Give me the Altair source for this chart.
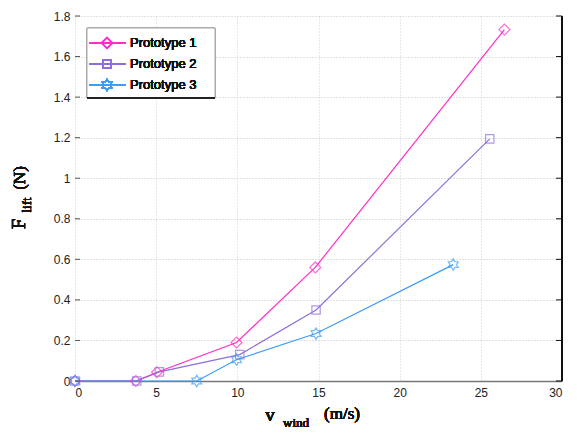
import altair as alt
import pandas as pd

# ---- data ----
series = ["Prototype 1", "Prototype 2", "Prototype 3"]
p1_x = [0, 3.75, 5.05, 9.95, 14.8, 26.45]
p1_y = [0, 0, 0.043, 0.19, 0.56, 1.733]
p2_x = [0, 3.8, 5.2, 10.15, 14.85, 25.55]
p2_y = [0, 0, 0.045, 0.13, 0.35, 1.194]
p3_x = [0, 7.5, 9.95, 14.85, 23.3]
p3_y = [0, 0, 0.105, 0.234, 0.574]
x_ticks = [0, 5, 10, 15, 20, 25, 30]
y_ticks = [0, 0.2, 0.4, 0.6, 0.8, 1.0, 1.2, 1.4, 1.6, 1.8]

colors = ["#ff2ecb", "#8e6fdc", "#3d9df5"]
HEX = ("M0,-1L-0.289,-0.5L-0.866,-0.5L-0.577,0L-0.866,0.5L-0.289,0.5L0,1"
       "L0.289,0.5L0.866,0.5L0.577,0L0.866,-0.5L0.289,-0.5Z")
shapes = ["diamond", "square", HEX]
sizes = [120, 70, 130]

W, H = 487, 365

rows = []
for name, xs, ys in zip(series, [p1_x, p2_x, p3_x], [p1_y, p2_y, p3_y]):
    for i, (a, b) in enumerate(zip(xs, ys)):
        rows.append({"series": name, "idx": i, "v": a, "F": b})
df = pd.DataFrame(rows)

xscale = alt.Scale(domain=[0, 30], nice=False, zero=False)
yscale = alt.Scale(domain=[0, 1.8], nice=False, zero=False)

X = alt.X("v:Q", scale=xscale, title=None,
          axis=alt.Axis(values=x_ticks, format="~g", domain=True, domainColor="#777777",
                        domainWidth=1.5, ticks=False, tickSize=0, labelPadding=6,
                        grid=True, gridColor="#d0d0d0", gridDash=[1, 2]))
Y = alt.Y("F:Q", scale=yscale, title=None,
          axis=alt.Axis(values=y_ticks, format="~g", domain=False, ticks=False, tickSize=0,
                        labelPadding=5, grid=True, gridColor="#c4c4c4", gridDash=[1, 2]))

color = alt.Color("series:N", scale=alt.Scale(domain=series, range=colors), legend=None)

base = alt.Chart(df)
lines = base.mark_line(strokeWidth=1.2).encode(x=X, y=Y, color=color, order="idx:Q", detail="series:N")

pts = []
for name, c, s, sz in zip(series, colors, shapes, sizes):
    pts.append(
        alt.Chart(df[df.series == name]).mark_point(filled=False, strokeWidth=1.2, size=sz, color=c, shape=s)
        .encode(x=alt.X("v:Q", scale=xscale), y=alt.Y("F:Q", scale=yscale))
    )

# frame on the right and inner ticks
tick_df = pd.DataFrame({"t": y_ticks})
right_frame = alt.Chart(tick_df).mark_rule(color="#111111", strokeWidth=1.5).encode(
    x=alt.value(W), y=alt.value(0), y2=alt.value(H))
left_ticks = alt.Chart(tick_df).mark_rule(color="#555555", strokeWidth=1).encode(
    y=alt.Y("t:Q", scale=yscale), x=alt.value(0), x2=alt.value(5))
right_ticks = alt.Chart(tick_df).mark_rule(color="#111111", strokeWidth=1).encode(
    y=alt.Y("t:Q", scale=yscale), x=alt.value(W - 6), x2=alt.value(W))

# legend
leg_box = alt.Chart(tick_df).mark_rect(fill="white", stroke="#aaaaaa", strokeWidth=1).encode(
    x=alt.value(12), x2=alt.value(140), y=alt.value(12), y2=alt.value(82))
leg_bottom = alt.Chart(tick_df).mark_rule(color="#222222", strokeWidth=1.5).encode(
    x=alt.value(12), x2=alt.value(140), y=alt.value(82))
leg_layers = [leg_box, leg_bottom]
for i, (name, c, s, sz) in enumerate(zip(series, colors, shapes, sizes)):
    yy = 27 + 21 * i
    leg_layers.append(alt.Chart(tick_df).mark_rule(color=c, strokeWidth=1.2).encode(
        x=alt.value(14), x2=alt.value(51), y=alt.value(yy)))
    leg_layers.append(alt.Chart(tick_df).mark_point(filled=False, strokeWidth=1.2, size=sz, color=c, shape=s).encode(
        x=alt.value(32), y=alt.value(yy)))
    leg_layers.append(alt.Chart(tick_df).mark_text(align="left", baseline="middle", font="Liberation Sans",
                                                   fontSize=13, fontWeight="normal", color="#111111").encode(
        x=alt.value(55), y=alt.value(yy), text=alt.value(name)))

# axis titles with subscripts
serif = "Liberation Serif"
def txt(t, x, y, size, angle=0):
    return alt.Chart(tick_df).mark_text(font=serif, fontSize=size, fontWeight="normal", color="#111111",
                                        align="center", baseline="middle", angle=angle).encode(
        x=alt.value(x), y=alt.value(y), text=alt.value(t))

titles = [
    txt("F", -56, 208, 19, 270),
    txt("lift", -48, 189, 13, 270),
    txt("(N)", -55, 162, 17, 270),
    txt("v", 195, 399, 19),
    txt("wind", 221, 407, 13),
    txt("(m/s)", 267, 398, 17),
]

chart = alt.layer(lines, *pts, right_frame, left_ticks, right_ticks, *leg_layers, *titles).properties(
    width=W, height=H,
    autosize=alt.AutoSizeParams(type="none"),
    padding={"left": 67, "top": 8, "right": 5, "bottom": 48},
).configure_view(stroke=None).configure_axis(
    labelFont="Liberation Sans", labelFontSize=12, labelColor="#222222"
)

chart.save("out.html", embed_options={"renderer": "svg", "actions": False})
